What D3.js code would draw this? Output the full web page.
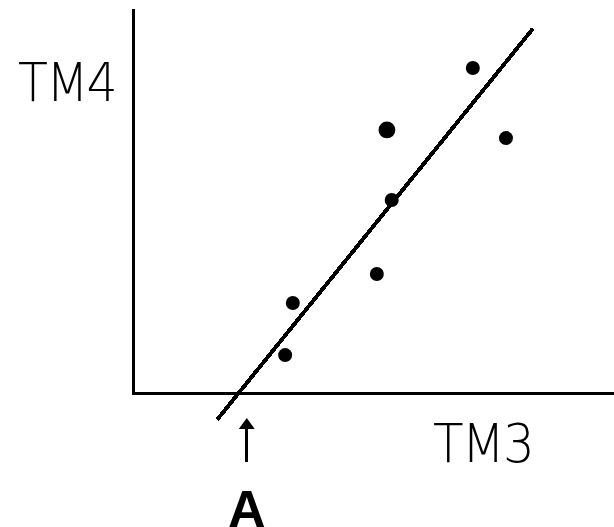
<!DOCTYPE html>
<html>
<head>
<meta charset="utf-8">
<script src="https://cdn.jsdelivr.net/npm/d3@7"></script>
<style>
  html, body { margin: 0; padding: 0; background: #fff; }
  svg { display: block; }
</style>
</head>
<body>
<script>
// ---- data ----
const tm3 = [33.3, 31.7, 52.9, 53.9, 50.8, 70.8, 77.7];
const tm4 = [18.75, 7.9, 54.8, 40.2, 24.8, 67.7, 53.1];
const pointSize = [1, 1, 1.2, 1, 1, 1, 1];
const fitLineTM3 = [17.5, 83.3];
const fitLineTM4 = [-5.6, 75.9];
const markerA = 23.7;
const axisLabels = ["TM3", "TM4"];
const markerLabel = "A";

// ---- layout ----
const W = 614, H = 527;
const svg = d3.select("body").append("svg").attr("width", W).attr("height", H);

const x = d3.scaleLinear().domain([0, 100]).range([133, 613]);
const y = d3.scaleLinear().domain([0, 80]).range([393, 9]);

// axes
const g = svg.append("g").attr("shape-rendering", "crispEdges");
g.append("line").attr("x1", x(0)).attr("x2", x(0)).attr("y1", y(0) + 1.5).attr("y2", y(80))
  .attr("stroke", "#000").attr("stroke-width", 3);
g.append("line").attr("x1", x(0) - 1.5).attr("x2", W).attr("y1", y(0)).attr("y2", y(0))
  .attr("stroke", "#000").attr("stroke-width", 3);

// fitted line
svg.append("line")
  .attr("x1", x(fitLineTM3[0])).attr("y1", y(fitLineTM4[0]))
  .attr("x2", x(fitLineTM3[1])).attr("y2", y(fitLineTM4[1]))
  .attr("stroke", "#000").attr("stroke-width", 4)
  .attr("shape-rendering", "crispEdges");

// points
svg.append("g").selectAll("circle").data(tm3.map((v, i) => [v, tm4[i], pointSize[i]]))
  .join("circle")
  .attr("cx", d => x(d[0])).attr("cy", d => y(d[1]))
  .attr("r", d => 7 * d[2])
  .attr("fill", "#000");

// arrow at A
const ax = x(markerA);
svg.append("line").attr("x1", ax).attr("x2", ax).attr("y1", 426).attr("y2", 462)
  .attr("stroke", "#000").attr("stroke-width", 3).attr("shape-rendering", "crispEdges");
svg.append("path")
  .attr("d", `M${ax},418 L${ax + 8},429 L${ax - 8},429 Z`)
  .attr("fill", "#000");

// labels: thin text fitted to a box (left, baseline, width)
const font = "'DejaVu Sans', 'Liberation Sans', sans-serif";
function fitText(str, left, baseline, width) {
  const t = svg.append("text").text(str)
    .attr("font-family", font).attr("font-size", 54).attr("font-weight", 200)
    .attr("letter-spacing", -2)
    .attr("fill", "#000");
  const bb = t.node().getBBox();
  const k = width / bb.width;
  t.attr("transform", `translate(${left - bb.x * k},${baseline}) scale(${k},1)`);
}
fitText(axisLabels[1], 18, 101, 98);
fitText(axisLabels[0], 433, 462, 100);

svg.append("text").attr("x", ax).attr("y", 527).attr("text-anchor", "middle").text(markerLabel)
  .attr("font-family", "'Liberation Sans', Arial, sans-serif").attr("font-size", 52).attr("font-weight", "bold")
  .attr("fill", "#000");
</script>
</body>
</html>
